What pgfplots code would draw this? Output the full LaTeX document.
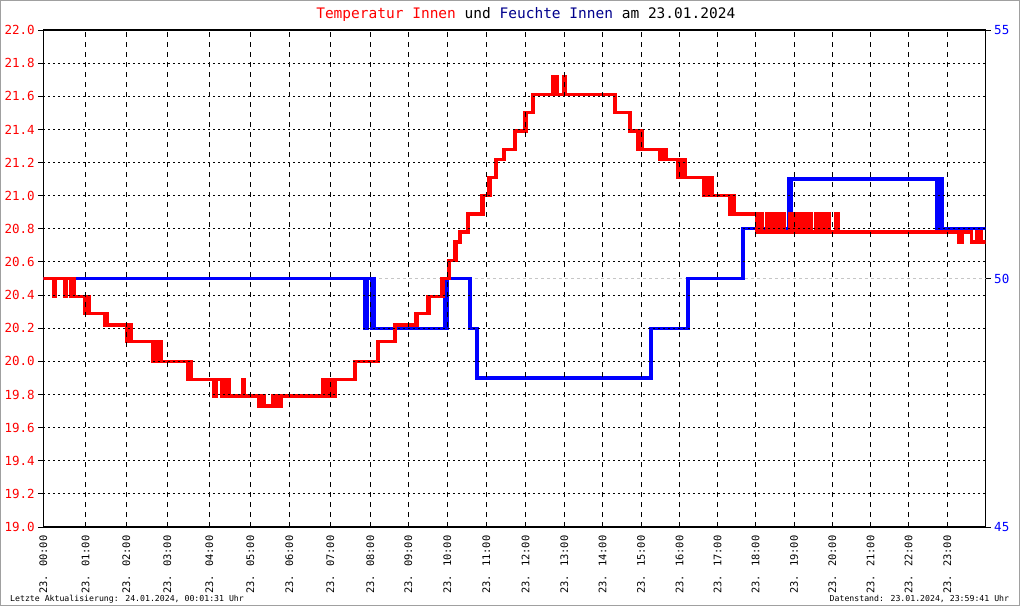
\documentclass[border=0pt]{standalone}
\usepackage{fontspec}
\setmainfont{DejaVu Sans Mono}
\usepackage{pgfplots}
\pgfplotsset{compat=1.18}
\definecolor{tred}{RGB}{255,0,0}
\definecolor{hblue}{RGB}{0,0,255}
\definecolor{navy}{RGB}{0,0,140}
\definecolor{framegray}{RGB}{160,160,160}

\pgfplotsset{
  common/.style={
    scale only axis, width=942.4pt, height=497pt,
    xmin=43.3, xmax=985.7,
  },
  hticks/.style={
    xtick={43.3,85.7,126.3,167.3,209.3,250.3,289.3,330.3,370.3,408.3,447.3,486.3,525.7,564.3,602.7,641,679.7,717.7,755.7,794,832.3,870.7,908.7,947.3},
    ytick={19,19.2,19.4,19.6,19.8,20,20.2,20.4,20.6,20.8,21,21.2,21.4,21.6,21.8,22},
  },
}

\begin{document}
\begin{tikzpicture}[x=1pt,y=1pt]
\useasboundingbox (-43.3,-79) rectangle (976.7,527);
\draw[framegray, line width=1pt] (-42.8,-78.5) rectangle (976.2,526.5);

% left axis: frame, ticks, labels
\begin{axis}[common, hticks,
  ymin=19, ymax=22,
  xticklabels={23. 00:00,23. 01:00,23. 02:00,23. 03:00,23. 04:00,23. 05:00,23. 06:00,23. 07:00,23. 08:00,23. 09:00,23. 10:00,23. 11:00,23. 12:00,23. 13:00,23. 14:00,23. 15:00,23. 16:00,23. 17:00,23. 18:00,23. 19:00,23. 20:00,23. 21:00,23. 22:00,23. 23:00},
  xticklabel style={rotate=90, anchor=east, font=\fontsize{10.4}{10.4}\selectfont},
  xtick style={draw=none},
  ytick pos=left,
  yticklabel style={text=tred, font=\fontsize{12.5}{12.5}\selectfont},
  /pgf/number format/.cd, fixed, fixed zerofill, precision=1, assume math mode=true,
  /pgfplots/.cd,
  tick align=outside, major tick length=5pt,
  ytick style={black, line width=0.9pt},
  axis line style={black, line width=1.2pt},
]
\end{axis}

% right axis: humidity
\begin{axis}[common,
  ymin=45, ymax=55,
  axis y line*=right, axis x line=none,
  ytick={45,50,55},
  yticklabel style={text=hblue, font=\fontsize{12.5}{12.5}\selectfont},
  /pgf/number format/assume math mode=true,
  tick align=outside, major tick length=5pt,
  ytick style={black, line width=0.9pt},
  axis line style={black, line width=1.2pt},
]
\addplot[gray!45, line width=1pt, dash pattern=on 3pt off 3pt] coordinates {(43.3,50) (985.7,50)};
\addplot[hblue, line width=3.3pt, const plot, line join=miter] coordinates {
(43.3,50) (365,49) (367.5,50) (371.5,49) (373.5,50) (374.5,49)
(445,50) (446,49) (447,50) (470,49) (477,48) (651,49) (688,50) (743,51)
(789,52) (790,51) (791,52)
(937,51) (938,52) (940.5,51) (941.5,52) (942.5,51) (985.7,51)
};
\end{axis}

% temperature
\begin{axis}[common, ymin=19, ymax=22, hide axis]
\addplot[tred, line width=3.3pt, const plot, line join=miter] coordinates {
(43.3,20.50)
(54,20.39) (55.5,20.50) (64.5,20.39) (66,20.50) (71,20.39) (72.5,20.50)
(74.5,20.39)
(84.5,20.29) (86,20.39) (87,20.29) (88,20.39) (89,20.29)
(104.5,20.22) (106,20.29) (107.5,20.22)
(126.5,20.12) (128,20.22) (129.5,20.12) (131,20.22) (131.5,20.12)
(153,20.00) (154.5,20.12) (156,20.00) (157,20.12) (159,20.00) (160,20.12) (161,20.00)
(188,19.89) (190,20.00) (191.5,19.89)
(214,19.79) (216.5,19.89)
(221.5,19.79) (223,19.89) (226,19.79) (227.5,19.89) (229,19.79)
(242.5,19.89) (244,19.79)
(258.5,19.73) (260,19.79) (261.5,19.73) (264,19.79) (264.5,19.73)
(273,19.79) (274.5,19.73) (276.5,19.79) (278,19.73) (279.5,19.79) (280,19.73) (281,19.79)
(323,19.89) (324.5,19.79) (326,19.89) (328,19.79) (330,19.89) (331.5,19.79) (333,19.89) (334,19.79) (335,19.89)
(355,20.00)
(378,20.12)
(395,20.22)
(415.5,20.29) (416.5,20.22) (417,20.29)
(428,20.39) (429,20.29) (429.5,20.39)
(441.5,20.50) (442.5,20.39) (443,20.50)
(449,20.61)
(455,20.72) (456,20.61) (456.5,20.72)
(460,20.78)
(468,20.89)
(481.5,21.00) (482.5,20.89) (483,21.00)
(488.5,21.11) (489.5,21.00) (490,21.11)
(496,21.22)
(504,21.28)
(515,21.39)
(525,21.50) (526,21.39) (526.5,21.50)
(533,21.61)
(553,21.72) (554,21.61) (555,21.72) (557,21.61)
(563.5,21.72) (565,21.61)
(615,21.50)
(630,21.39)
(638,21.28) (639,21.39) (640.5,21.28) (641.5,21.39) (642.5,21.28)
(660,21.22) (661.5,21.28) (663,21.22) (664.5,21.28) (666,21.22)
(678,21.11) (679,21.22) (680.5,21.11) (682,21.22) (683,21.11) (684,21.22) (685,21.11)
(704,21.00) (705.5,21.11) (707,21.00) (708.5,21.11) (710,21.00) (711.5,21.11) (712.5,21.00)
(730,20.89) (731.5,21.00) (732.5,20.89) (733.5,21.00) (734.5,20.89)
(757,20.78) (758.5,20.89) (762,20.78)
(767,20.89) (768.5,20.78)
(771,20.89) (772.5,20.78)
(775,20.89) (776,20.78)
(780,20.89) (781,20.78)
(783.5,20.89) (784.5,20.78)
(790,20.89) (791,20.78)
(794,20.89) (798,20.78) (799,20.89) (802,20.78) (803,20.89)
(807,20.78) (809,20.89) (811,20.78)
(815.5,20.89) (817,20.78) (818.5,20.89) (820,20.78)
(822,20.89) (824.5,20.78)
(827.5,20.89) (829.5,20.78)
(836,20.89) (838.5,20.78)
(959,20.72) (962,20.78)
(971.5,20.72) (976.5,20.78) (977.5,20.72) (980.5,20.78) (981.5,20.72) (985.7,20.72)
};
\end{axis}

% grid on top
\begin{axis}[common, hticks, ymin=19, ymax=22,
  xticklabels={}, yticklabels={},
  tick style={draw=none}, axis line style={draw=none},
  xmajorgrids, ymajorgrids,
  x grid style={black, line width=0.9pt, dash pattern=on 5pt off 5pt},
  y grid style={black, line width=0.9pt, dash pattern=on 2pt off 3pt},
]
\end{axis}

\node[anchor=base, font=\fontsize{14.5}{14.5}\selectfont, inner sep=0pt] at (482.5,508.7)
  {\textcolor{tred}{Temperatur Innen} und \textcolor{navy}{Feuchte Innen} am 23.01.2024};
\node[anchor=base west, font=\fontsize{8.2}{8.2}\selectfont, inner sep=0pt] at (-33.3,-74.7)
  {Letzte Aktualisierung: 24.01.2024, 00:01:31 Uhr};
\node[anchor=base east, font=\fontsize{8.2}{8.2}\selectfont, inner sep=0pt] at (966,-74.7)
  {Datenstand: 23.01.2024, 23:59:41 Uhr};
\end{tikzpicture}
\end{document}
